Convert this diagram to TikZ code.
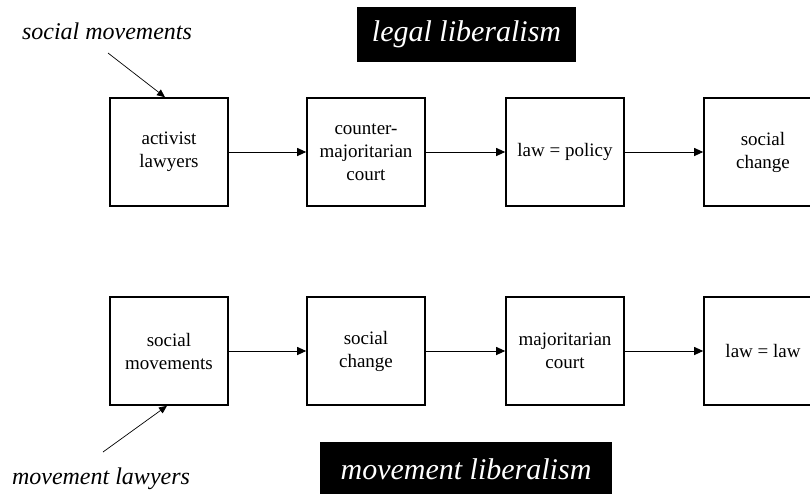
\documentclass[tikz,border=0pt]{standalone}
\usepackage{fontspec}
\setmainfont{Liberation Serif}
\usetikzlibrary{arrows.meta,calc}
\tikzset{
  stepbox/.style={draw, line width=1.6pt, minimum width=118pt, minimum height=108pt, align=center, font=\fontsize{19}{23}\selectfont, inner sep=2pt},
  flow/.style={line width=1pt, -{Triangle[length=9pt,width=8pt]}},
  pointer/.style={line width=0.7pt, -{Triangle[length=8pt,width=7pt]}},
  title/.style={fill=black, text=white, font=\fontsize{30}{34}\selectfont\itshape, minimum height=55pt, inner sep=0pt},
  sidelabel/.style={font=\fontsize{24}{27}\selectfont\itshape, inner sep=0pt}
}
\begin{document}
\begin{tikzpicture}[x=1pt,y=-1pt]
\useasboundingbox (0,0) rectangle (810,493);
\clip (0,0) rectangle (810,493);
% top row
\node[stepbox] (t1) at (169,152) {activist\\lawyers};
\node[stepbox] (t2) at (366,152) {counter-\\majoritarian\\court};
\node[stepbox] (t3) at (565,152) {law = policy};
\node[stepbox] (t4) at (763,152) {social\\change};
\draw[flow] (t1) -- (t2);
\draw[flow] (t2) -- (t3);
\draw[flow] (t3) -- (t4);
% bottom row
\node[stepbox] (b1) at (169,351) {social\\movements};
\node[stepbox] (b2) at (366,351) {social\\change};
\node[stepbox] (b3) at (565,351) {majoritarian\\court};
\node[stepbox] (b4) at (763,351) {law = law};
\draw[flow] (b1) -- (b2);
\draw[flow] (b2) -- (b3);
\draw[flow] (b3) -- (b4);
% titles
\node[title, minimum width=219pt] (lt) at (466.5,34.5) {legal liberalism};
\node[title, minimum width=292pt] (mt) at (466,469.5) {movement liberalism};
% side labels
\node[sidelabel] (sm) at (107,31) {social movements};
\node[sidelabel] (ml) at (101,479) {movement lawyers};
\coordinate (smstart) at (108,53);
\coordinate (mlstart) at (103,452);
\draw[pointer] (smstart) -- ([xshift=-4pt]t1.north);
\draw[pointer] (mlstart) -- ([xshift=-2pt]b1.south);
\end{tikzpicture}
\end{document}
